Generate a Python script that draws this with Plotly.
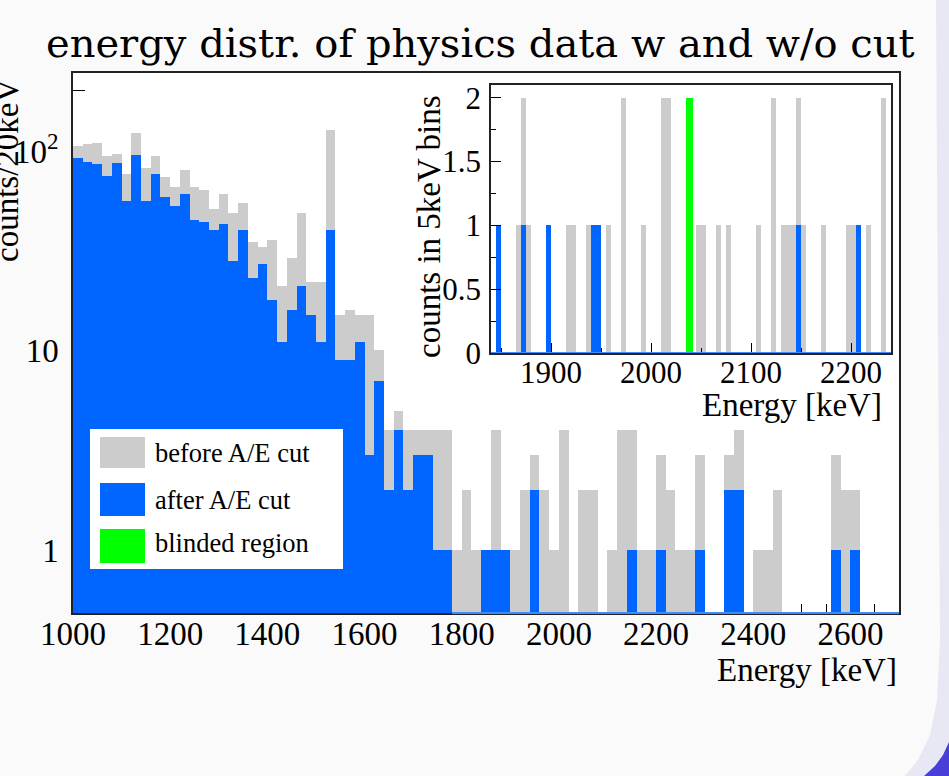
import numpy as np
import plotly.graph_objects as go

# ---------------- data ----------------
main_start_kev = 1000
main_bin_kev = 20
# counts/20keV before A/E cut (bins from 1000 to 2700 keV)
grey_counts = [106, 108, 110, 94, 97, 77, 123, 82, 94, 74,
               66, 80, 66, 64, 51, 61, 49, 55, 35, 33,
               36, 21, 29, 49, 22, 22, 128, 15, 16, 15,
               15, 10, 4, 5, 4, 4, 4, 4, 4, 1,
               2, 1, 1, 4, 1, 1, 2, 3, 2, 1,
               4, 0, 2, 2, 0, 1, 4, 4, 1, 1,
               3, 2, 1, 1, 3, 0, 0, 3, 4, 0,
               1, 1, 2, 0, 0, 0, 0, 0, 3, 2,
               2, 0, 0, 0, 0]
# counts/20keV after A/E cut
blue_counts = [92, 88, 86, 75, 87, 56, 95, 56, 77, 59,
               53, 61, 45, 44, 40, 43, 28, 40, 23, 27,
               18, 11, 16, 21, 15, 11, 40, 9, 9, 11,
               3, 7, 2, 4, 2, 3, 3, 1, 1, 0,
               0, 0, 1, 1, 1, 0, 0, 2, 0, 0,
               0, 0, 0, 0, 0, 0, 0, 1, 0, 0,
               1, 0, 0, 0, 1, 0, 0, 2, 2, 0,
               0, 0, 0, 0, 0, 0, 0, 0, 1, 0,
               1, 0, 0, 0, 0]

# inset: 5 keV bins (lower bin edge, counts)
inset_bin_kev = 5
inset_grey_edges = [1845, 1865, 1870, 1875, 1895, 1915, 1920, 1935, 1940, 1945,
                    1955, 1970, 1990, 2010, 2015, 2045, 2050, 2065, 2075, 2105,
                    2120, 2130, 2135, 2140, 2145, 2150, 2170, 2195, 2200, 2205,
                    2215, 2230]
inset_grey_counts = [1, 1, 2, 1, 1, 1, 1, 1, 1, 1,
                     1, 2, 1, 2, 2, 1, 1, 1, 1, 1,
                     2, 1, 1, 1, 2, 1, 1, 1, 1, 1,
                     1, 2]
inset_blue_edges = [1845, 1870, 1895, 1940, 1945, 2145, 2205]
inset_blue_counts = [1, 1, 1, 1, 1, 1, 1]
blind_lo, blind_hi, blind_count = 2035, 2042, 2

main_xticks = [1000, 1200, 1400, 1600, 1800, 2000, 2200, 2400, 2600]
main_yticks = [1, 10, 100]
main_yticktext = ["1", "10", "10<sup>2</sup>"]
inset_xticks = [1900, 2000, 2100, 2200]
inset_yticks = [0, 0.5, 1, 1.5, 2]
inset_yticktext = ["0", "0.5", "1", "1.5", "2"]

# ---------------- styling ----------------
W, H = 949, 776
L, R, T, B = 73, 899, 73, 613
GREY = "#cccccc"
BLUE = "#0066ff"
GREEN = "#00ff00"
SERIF = "Liberation Serif, Times New Roman, serif"


def px(x):
    return (x - L) / (R - L)


def py(y):
    return (B - y) / (B - T)


n_main = len(grey_counts)
centers = main_start_kev + main_bin_kev * (np.arange(n_main) + 0.5)
grey_vals = [v if v > 0 else None for v in grey_counts]
blue_vals = [v if v > 0 else None for v in blue_counts]

fig = go.Figure()
fig.add_trace(go.Bar(x=centers, y=grey_vals, width=main_bin_kev, marker=dict(color=GREY, line=dict(width=0)),
                     name="before A/E cut", showlegend=False))
fig.add_trace(go.Bar(x=centers, y=blue_vals, width=main_bin_kev, marker=dict(color=BLUE, line=dict(width=0)),
                     name="after A/E cut", showlegend=False))

# pad (empty subplot giving white background for the inset)
fig.add_trace(go.Scatter(x=[], y=[], xaxis="x2", yaxis="y2", showlegend=False))

ig_x = np.array(inset_grey_edges) + inset_bin_kev / 2
ib_x = np.array(inset_blue_edges) + inset_bin_kev / 2
fig.add_trace(go.Bar(x=ig_x, y=inset_grey_counts, width=inset_bin_kev * 0.85, xaxis="x3", yaxis="y3",
                     marker=dict(color=GREY, line=dict(width=0)), showlegend=False))
fig.add_trace(go.Bar(x=ib_x, y=inset_blue_counts, width=inset_bin_kev, xaxis="x3", yaxis="y3",
                     marker=dict(color=BLUE, line=dict(width=0)), showlegend=False))
fig.add_trace(go.Bar(x=[(blind_lo + blind_hi) / 2], y=[blind_count], width=blind_hi - blind_lo,
                     xaxis="x3", yaxis="y3", marker=dict(color=GREEN, line=dict(width=0)), showlegend=False))

tickfont_main = dict(family=SERIF, size=33, color="black")
tickfont_inset = dict(family=SERIF, size=31, color="black")

fig.update_layout(
    width=W, height=H, autosize=False,
    margin=dict(l=L, r=W - R, t=T, b=H - B, pad=0),
    paper_bgcolor="#fafafa", plot_bgcolor="white",
    barmode="overlay", bargap=0,
    showlegend=False,
    xaxis=dict(range=[1000, 2700], tickvals=main_xticks, ticks="inside", ticklen=18, tickwidth=1.2,
               tickcolor="black", showgrid=False, zeroline=False, showline=True, mirror=True,
               linecolor="#222", linewidth=1.5, tickfont=tickfont_main, layer="below traces",
               minor=dict(dtick=50, tick0=1000, ticks="inside", ticklen=9, tickwidth=1.2, tickcolor="black",
                          showgrid=False),
               ticklabelstandoff=-9),
    yaxis=dict(type="log", range=[-0.316, 2.391], tickvals=main_yticks, ticktext=main_yticktext,
               ticks="inside", ticklen=23, tickwidth=1.2, tickcolor="black", showgrid=False, zeroline=False,
               showline=True, mirror=True, linecolor="#222", linewidth=1.5, tickfont=tickfont_main,
               layer="below traces",
               minor=dict(tickvals=[2, 3, 4, 5, 6, 7, 8, 9, 20, 30, 40, 50, 60, 70, 80, 90, 200],
                          ticks="inside", ticklen=12, tickwidth=1.2, tickcolor="black", showgrid=False),
               ticklabelstandoff=6),
    xaxis2=dict(domain=[px(413), px(896)], anchor="y2", visible=False, range=[0, 1]),
    yaxis2=dict(domain=[py(427), py(75)], anchor="x2", visible=False, range=[0, 1]),
    xaxis3=dict(domain=[px(491), px(891)], anchor="y3", range=[1840, 2240], tickvals=inset_xticks,
                ticks="inside", ticklen=10, tickwidth=1.2, tickcolor="black", showgrid=False, zeroline=False,
                showline=True, mirror=True, linecolor="#222", linewidth=1.5, tickfont=tickfont_inset,
                minor=dict(dtick=50, tick0=1850, ticks="inside", ticklen=5, tickwidth=1.2, tickcolor="black",
                           showgrid=False),
                ticklabelstandoff=-9),
    yaxis3=dict(domain=[py(353), py(85)], anchor="x3", range=[0, 2.1], tickvals=inset_yticks,
                ticktext=inset_yticktext, ticks="inside", ticklen=10, tickwidth=1.2, tickcolor="black",
                showgrid=False, zeroline=False, showline=True, mirror=True, linecolor="#222", linewidth=1.5,
                tickfont=tickfont_inset,
                minor=dict(dtick=0.25, tick0=0, ticks="inside", ticklen=5, tickwidth=1.2, tickcolor="black",
                           showgrid=False),
                ticklabelstandoff=2),
)

# blue histogram baselines
first_empty = next(i for i, v in enumerate(blue_counts) if v == 0)
blue_base_start = main_start_kev + main_bin_kev * first_empty
shapes = [
    dict(type="line", xref="x", yref="y domain", x0=blue_base_start, x1=2700, y0=0, y1=0,
         line=dict(color="#3d8bff", width=2), layer="above"),
    dict(type="line", xref="x3 domain", yref="y3", x0=0, x1=1, y0=0, y1=0,
         line=dict(color="#3d8bff", width=2), layer="above"),
]

# legend box + swatches
shapes.append(dict(type="rect", xref="paper", yref="paper", x0=px(90), x1=px(343), y0=py(569), y1=py(429),
                   fillcolor="white", line=dict(width=0), layer="above"))
for (y0, y1, col) in [(437, 468, GREY), (483, 516, BLUE), (529, 563, GREEN)]:
    shapes.append(dict(type="rect", xref="paper", yref="paper", x0=px(100), x1=px(145), y0=py(y1), y1=py(y0),
                       fillcolor=col, line=dict(width=0), layer="above"))


# slide background decoration (right edge)
def path_px(points):
    s = ""
    for k, (x, y) in enumerate(points):
        s += ("M" if k == 0 else "L") + f"{px(x):.5f},{py(y):.5f} "
    return s + "Z"


lav = [(936, 0), (949, 0), (949, 776), (905, 776), (918, 760), (930, 735), (937, 700), (940, 640), (939, 500)]
shapes.append(dict(type="path", xref="paper", yref="paper", path=path_px(lav), fillcolor="#e8e8f4",
                   line=dict(width=0), layer="below"))
pur = [(924, 776), (935, 766), (943, 755), (949, 742), (949, 776)]
shapes.append(dict(type="path", xref="paper", yref="paper", path=path_px(pur), fillcolor="#4a3ed8",
                   line=dict(width=0), layer="below"))
fig.update_layout(shapes=shapes)

annotations = [
    dict(text="energy distr. of physics data w and w/o cut", xref="paper", yref="paper",
         x=px(480), y=py(43), xanchor="center", yanchor="middle", showarrow=False,
         font=dict(family="DejaVu Serif, serif", size=40, color="black")),
    dict(text="Energy [keV]", xref="paper", yref="paper", x=px(899), y=py(670), xanchor="right",
         yanchor="middle", showarrow=False, font=dict(family=SERIF, size=33, color="black")),
    dict(text="counts/20keV", xref="paper", yref="paper", x=px(7), y=py(171), xanchor="center",
         yanchor="middle", textangle=-90, showarrow=False, font=dict(family=SERIF, size=33, color="black")),
    dict(text="Energy [keV]", xref="paper", yref="paper", x=px(884), y=py(405), xanchor="right",
         yanchor="middle", showarrow=False, font=dict(family=SERIF, size=33, color="black")),
    dict(text="counts in 5keV bins", xref="paper", yref="paper", x=px(429), y=py(227), xanchor="center",
         yanchor="middle", textangle=-90, showarrow=False, font=dict(family=SERIF, size=33, color="black")),
]
for (yc, label) in [(453, "before A/E cut"), (500, "after A/E cut"), (543, "blinded region")]:
    annotations.append(dict(text=label, xref="paper", yref="paper", x=px(153), y=py(yc), xanchor="left",
                            yanchor="middle", showarrow=False, font=dict(family=SERIF, size=26.5, color="black")))
fig.update_layout(annotations=annotations)

fig.write_html("out.html")
